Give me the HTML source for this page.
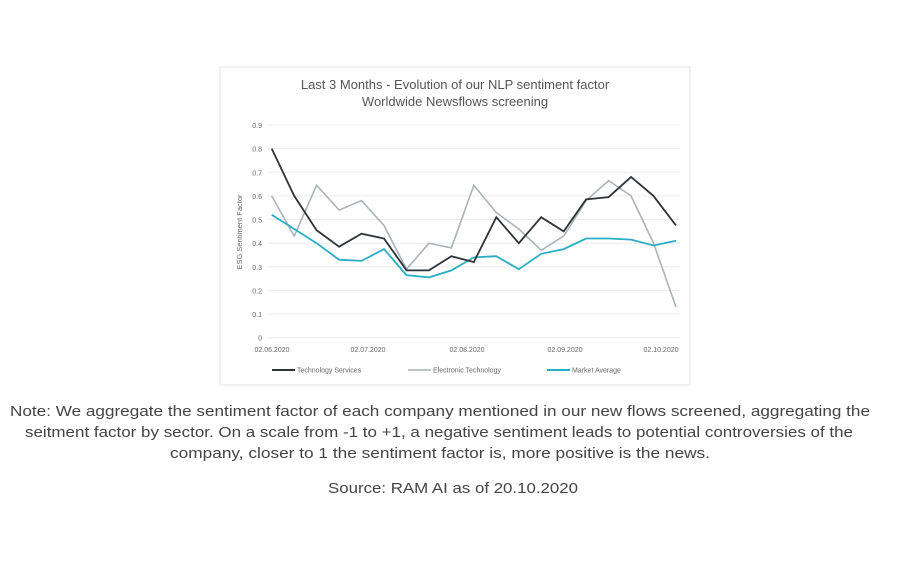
<!DOCTYPE html>
<html><head><meta charset="utf-8"><style>
html,body{margin:0;padding:0;background:#fff;}
svg{display:block;font-family:"Liberation Sans",Arial,sans-serif;}
</style></head><body>
<svg width="910" height="570" viewBox="0 0 910 570" xmlns="http://www.w3.org/2000/svg">
<rect x="220" y="67" width="470" height="318" fill="#fff" stroke="#e6e6e6" stroke-width="1"/>
<text x="455" y="89" font-size="13" fill="#555" text-anchor="middle">Last 3 Months - Evolution of our NLP sentiment factor</text>
<text x="455" y="106" font-size="13" fill="#555" text-anchor="middle">Worldwide Newsflows screening</text>
<g stroke="#ececec" stroke-width="1">
<line x1="268" x2="680" y1="125" y2="125"/><line x1="268" x2="680" y1="148.6" y2="148.6"/>
<line x1="268" x2="680" y1="172.3" y2="172.3"/><line x1="268" x2="680" y1="195.9" y2="195.9"/>
<line x1="268" x2="680" y1="219.5" y2="219.5"/><line x1="268" x2="680" y1="243.2" y2="243.2"/>
<line x1="268" x2="680" y1="266.8" y2="266.8"/><line x1="268" x2="680" y1="290.4" y2="290.4"/>
<line x1="268" x2="680" y1="314.1" y2="314.1"/><line x1="268" x2="680" y1="337.7" y2="337.7"/>
</g>
<g font-size="7" fill="#666" text-anchor="end">
<text x="262" y="128">0.9</text><text x="262" y="151.6">0.8</text><text x="262" y="175.3">0.7</text>
<text x="262" y="198.9">0.6</text><text x="262" y="222.5">0.5</text><text x="262" y="246.2">0.4</text>
<text x="262" y="269.8">0.3</text><text x="262" y="293.4">0.2</text><text x="262" y="317.1">0.1</text>
<text x="262" y="340.7">0</text>
</g>
<text x="0" y="0" font-size="7.5" fill="#666" text-anchor="middle" transform="translate(242,232) rotate(-90)">ESG Sentiment Factor</text>
<g font-size="7" fill="#666" text-anchor="middle">
<text x="272" y="352">02.06.2020</text><text x="368" y="352">02.07.2020</text>
<text x="467" y="352">02.08.2020</text><text x="565" y="352">02.09.2020</text>
<text x="661" y="352">02.10.2020</text>
</g>
<polyline fill="none" stroke="#aab4b8" stroke-width="1.6" points="271.7,195.9 294.2,236.1 316.6,185.3 339.1,210.1 361.5,200.6 384,225.5 406.5,269.2 428.9,243.2 451.4,247.9 473.8,185.3 496.3,212.5 518.8,229.0 541.2,250.3 563.7,236.1 586.1,200.6 608.6,180.6 631.1,195.9 653.5,243.2 676,307.0"/>
<polyline fill="none" stroke="#2aaec4" stroke-width="1.8" points="271.7,214.8 294.2,229.0 316.6,243.2 339.1,259.7 361.5,260.9 384,249.1 406.5,275.1 428.9,277.4 451.4,270.4 473.8,257.4 496.3,256.2 518.8,269.2 541.2,253.8 563.7,249.1 586.1,238.5 608.6,238.5 631.1,239.6 653.5,245.5 676,240.8"/>
<polyline fill="none" stroke="#2e3338" stroke-width="1.8" points="271.7,148.6 294.2,195.9 316.6,230.2 339.1,246.7 361.5,233.7 384,238.5 406.5,270.4 428.9,270.4 451.4,256.2 473.8,262.1 496.3,217.2 518.8,243.2 541.2,217.2 563.7,231.4 586.1,199.4 608.6,197.1 631.1,177.0 653.5,195.9 676,225.5"/>
<g font-size="7" fill="#666">
<line x1="272" x2="295" y1="370" y2="370" stroke="#2e3338" stroke-width="2"/><text x="297" y="372.5">Technology Services</text>
<line x1="408" x2="431" y1="370" y2="370" stroke="#aab4b8" stroke-width="1.6"/><text x="433" y="372.5">Electronic Technology</text>
<line x1="547" x2="570" y1="370" y2="370" stroke="#2aaec4" stroke-width="2"/><text x="572" y="372.5">Market Average</text>
</g>
<g font-size="15" fill="#444" text-anchor="middle">
<text x="440" y="416" textLength="860" lengthAdjust="spacingAndGlyphs">Note: We aggregate the sentiment factor of each company mentioned in our new flows screened, aggregating the</text>
<text x="439" y="437" textLength="828" lengthAdjust="spacingAndGlyphs">seitment factor by sector. On a scale from -1 to +1, a negative sentiment leads to potential controversies of the</text>
<text x="440" y="458" textLength="540" lengthAdjust="spacingAndGlyphs">company, closer to 1 the sentiment  factor is, more positive is the news.</text>
<text x="453" y="493" textLength="250" lengthAdjust="spacingAndGlyphs">Source: RAM AI as of 20.10.2020</text>
</g>
</svg>
</body></html>
